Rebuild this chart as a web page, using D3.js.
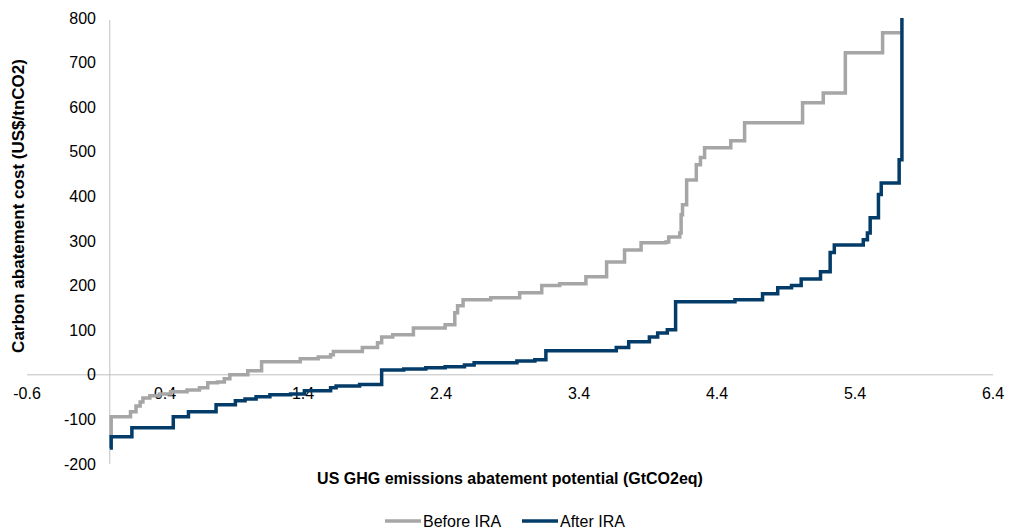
<!DOCTYPE html>
<html>
<head>
<meta charset="utf-8">
<script src="https://cdn.jsdelivr.net/npm/d3@7"></script>
<style>
  html, body { margin: 0; padding: 0; background: #fff; }
  svg { display: block; font-family: "Liberation Sans", Arial, sans-serif; }
</style>
</head>
<body>
<svg id="chart" width="1014" height="532"></svg>
<script>
// ---- Data (step points: x = GtCO2eq, y = US$/tnCO2) ----
const beforeX = [0.00, 0.01, 0.15, 0.19, 0.22, 0.24, 0.29, 0.36, 0.44, 0.56, 0.65, 0.71, 0.78, 0.83, 0.87, 1.00, 1.10, 1.38, 1.51, 1.60, 1.62, 1.83, 1.94, 1.97, 2.05, 2.20, 2.43, 2.50, 2.52, 2.56, 2.76, 2.97, 3.13, 3.26, 3.45, 3.60, 3.73, 3.85, 4.03, 4.05, 4.13, 4.14, 4.15, 4.18, 4.25, 4.28, 4.31, 4.50, 4.60, 5.02, 5.17, 5.33, 5.60, 5.73];
const beforeY = [-141, -94, -83, -70, -61, -52, -47, -43, -38, -34, -29, -18, -16, -9, 0, 9, 29, 36, 40, 45, 52, 61, 72, 85, 90, 105, 112, 139, 155, 168, 173, 184, 200, 204, 220, 253, 280, 296, 298, 309, 318, 359, 381, 437, 471, 487, 509, 525, 565, 610, 632, 722, 767, 767];

const afterX = [0.00, 0.01, 0.16, 0.46, 0.57, 0.77, 0.91, 0.98, 1.06, 1.16, 1.31, 1.41, 1.60, 1.64, 1.81, 1.97, 2.13, 2.29, 2.43, 2.57, 2.64, 2.95, 3.08, 3.16, 3.67, 3.76, 3.91, 3.97, 4.04, 4.10, 4.53, 4.73, 4.84, 4.94, 5.01, 5.15, 5.22, 5.25, 5.46, 5.49, 5.51, 5.57, 5.59, 5.72, 5.74];
const afterY = [-164, -139, -119, -94, -83, -67, -58, -54, -49, -45, -43, -36, -29, -25, -22, 11, 13, 16, 18, 22, 27, 31, 34, 54, 61, 74, 85, 94, 101, 164, 168, 182, 195, 200, 215, 231, 274, 291, 303, 318, 352, 404, 430, 482, 800];

const xTicks = [-0.6, 0.4, 1.4, 2.4, 3.4, 4.4, 5.4, 6.4];
const yTicks = [-200, -100, 0, 100, 200, 300, 400, 500, 600, 700, 800];

const seriesNames = ["Before IRA", "After IRA"];
const seriesColors = ["#a6a6a6", "#033c68"];
const xTitle = "US GHG emissions abatement potential (GtCO2eq)";
const yTitle = "Carbon abatement cost (US$/tnCO2)";

// ---- Layout ----
const svg = d3.select("#chart");
const x = d3.scaleLinear().domain([-0.6, 6.4]).range([27, 993]);
const y = d3.scaleLinear().domain([-200, 800]).range([464, 18]);

// axes lines
svg.append("line")
  .attr("x1", x(-0.6)).attr("x2", x(6.4))
  .attr("y1", y(0)).attr("y2", y(0))
  .attr("stroke", "#c0c0c0").attr("stroke-width", 1);
svg.append("line")
  .attr("x1", x(0)).attr("x2", x(0))
  .attr("y1", y(800) + 2).attr("y2", y(-200))
  .attr("stroke", "#c0c0c0").attr("stroke-width", 1);

// y tick labels
svg.append("g").selectAll("text").data(yTicks).join("text")
  .attr("x", 96).attr("y", d => y(d))
  .attr("dy", "0.35em")
  .attr("text-anchor", "end")
  .attr("font-size", 16).attr("fill", "#000")
  .text(d => d);

// x tick labels
svg.append("g").selectAll("text").data(xTicks).join("text")
  .attr("x", d => x(d)).attr("y", y(0) + 19)
  .attr("dy", "0.35em")
  .attr("text-anchor", "middle")
  .attr("font-size", 16).attr("fill", "#000")
  .text(d => d.toFixed(1));

// lines
const seriesData = [
  beforeX.map((v, i) => [v, beforeY[i]]),
  afterX.map((v, i) => [v, afterY[i]])
];
const line = d3.line().x(d => x(d[0])).y(d => y(d[1])).curve(d3.curveStepAfter);
svg.append("defs").append("clipPath").attr("id", "clip")
  .append("rect").attr("x", 0).attr("y", y(800)).attr("width", 1014).attr("height", 500);
seriesData.forEach((s, i) => {
  svg.append("path")
    .attr("d", line(s))
    .attr("fill", "none")
    .attr("stroke", seriesColors[i])
    .attr("stroke-width", 3.5)
    .attr("stroke-linejoin", "miter")
    .attr("clip-path", "url(#clip)");
});

// axis titles
svg.append("text")
  .attr("x", 510).attr("y", 478).attr("dy", "0.35em")
  .attr("text-anchor", "middle")
  .attr("font-size", 16).attr("font-weight", "bold")
  .text(xTitle);
svg.append("text")
  .attr("transform", "translate(18,206) rotate(-90)")
  .attr("dy", "0.35em")
  .attr("text-anchor", "middle")
  .attr("font-size", 17).attr("font-weight", "bold")
  .text(yTitle);

// legend
const legendPos = [385, 522];
const lg = svg.append("g");
seriesNames.forEach((n, i) => {
  const lx = legendPos[i];
  lg.append("line")
    .attr("x1", lx).attr("x2", lx + 36)
    .attr("y1", 521).attr("y2", 521)
    .attr("stroke", seriesColors[i]).attr("stroke-width", 3.5);
  lg.append("text")
    .attr("x", lx + 38).attr("y", 521).attr("dy", "0.35em")
    .attr("font-size", 16)
    .text(n);
});
</script>
</body>
</html>
